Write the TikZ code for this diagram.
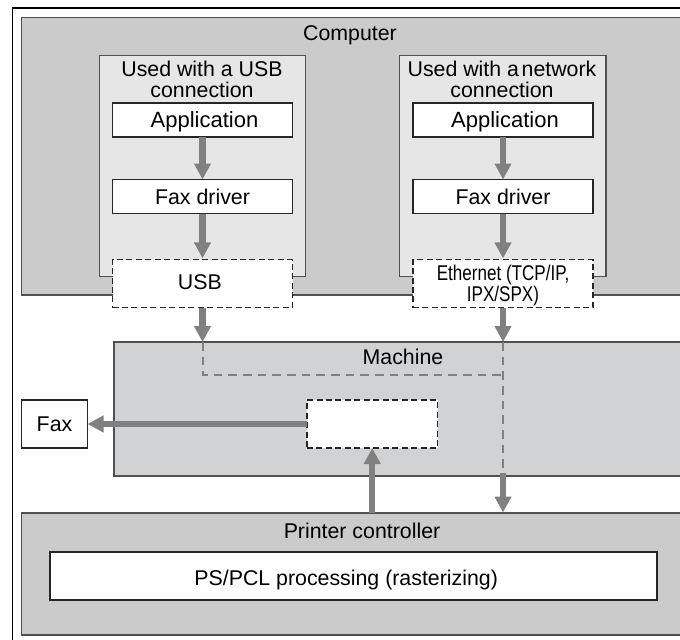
\documentclass[tikz,border=0pt]{standalone}
\usepackage{fontspec}
\setmainfont{Liberation Sans}
\usetikzlibrary{arrows.meta}
\definecolor{boxgray}{HTML}{CBCBCB}
\definecolor{lightgray}{HTML}{E6E6E6}
\definecolor{machgray}{HTML}{D1D2D4}
\definecolor{flowgray}{HTML}{808080}
\definecolor{edgegray}{HTML}{505050}
\newcommand{\appfont}{\fontsize{16.5}{16.5}\selectfont}
\tikzset{
  x=0.75pt,y=-0.75pt,
  pxbox/.style 2 args={anchor=north west,inner sep=0pt,outer sep=0pt,align=center,font=\fontsize{16}{16}\selectfont,
     text depth=0pt,minimum width=#1*0.75pt,minimum height=#2*0.75pt},
  region/.style={draw=edgegray,line width=0.9pt,fill=boxgray},
  solidbox/.style={draw=black!85,line width=0.8pt,fill=white},
  dashbox/.style={draw=black!85,line width=0.8pt,fill=white,dash pattern=on 4.5pt off 2.6pt},
  label/.style={inner sep=0pt,outer sep=0pt,align=center,text depth=0pt,font=\fontsize{16}{16}\selectfont},
  flow/.style={draw=flowgray,line width=4.6pt,-{Triangle[length=12pt,width=12pt]}},
  pathdash/.style={draw=flowgray,line width=1.5pt,dash pattern=on 6.5pt off 4.5pt},
}
\begin{document}
\begin{tikzpicture}
\useasboundingbox (0,0) rectangle (680,639);
\clip (0,0) rectangle (680,639);
\fill[white] (0,0) rectangle (680,639);
% outer frame
\node[pxbox={720}{680},draw=black,line width=1pt] (frame) at (12.5,8) {};
% computer
\node[pxbox={700}{277.5},region] (computer) at (21.5,17.5) {};
\node[label] (computerlabel) at (350,33) {Computer};
\node[pxbox={206}{221},draw=edgegray,line width=0.9pt,fill=lightgray] (usbgroup) at (99.5,55.5) {};
\node[pxbox={206.5}{221},draw=edgegray,line width=0.9pt,fill=lightgray] (netgroup) at (399.5,55.5) {};
\node[label] (usbtitle) at (202,79) {Used with a USB\\connection};
\node[label] (nettitle) at (502,79) {Used with a\hspace{-2.5pt} network\\connection};
\node[pxbox={180}{34},solidbox] (appu) at (112.5,103) {\hspace{3pt}\appfont Application};
\node[pxbox={180}{34},solidbox] (appn) at (413,103) {\hspace{3pt}\appfont Application};
\node[pxbox={180}{34},solidbox] (faxu) at (112.5,179.5) {Fax driver};
\node[pxbox={180}{34},solidbox] (faxn) at (413,179.5) {Fax driver};
\node[pxbox={180}{48},dashbox] (usb) at (112.5,259.5) {\raisebox{1.8pt}{\hspace{-4pt}USB}};
\node[pxbox={180}{48},dashbox] (eth) at (413,259.5) {\scalebox{0.8}[1]{Ethernet (TCP/IP,}\\\scalebox{0.8}[1]{IPX/SPX)}};
% machine
\node[pxbox={600}{134},draw=edgegray,line width=0.9pt,fill=machgray] (machine) at (114,342) {};
\node[label] (machinelabel) at (403,357) {Machine};
\node[pxbox={130.5}{48},dashbox] (inner) at (307,400) {};
\node[pxbox={66}{48},solidbox] (fax) at (21.5,400) {Fax};
% printer controller
\node[pxbox={700}{122},region] (printer) at (21.5,513) {};
\node[label] (printerlabel) at (362,531) {Printer controller};
\node[pxbox={607}{48},solidbox] (ps) at (50,552) {\hspace{-11pt}\raisebox{-2.6pt}{PS/PCL processing (rasterizing)}};
% junction coordinates
\coordinate (musb) at (usb.south|-machine.north);
\coordinate (mnet) at (eth.south|-machine.north);
\coordinate (corner) at (202.5,375);
\coordinate (joint) at (503,375);
\coordinate (dropstart) at (503,472);
\coordinate (dropend) at (503,512.5);
\coordinate (printin) at (inner.south|-printer.north);
% connectors
\draw[flow] (appu) -- (faxu);
\draw[flow] (appn) -- (faxn);
\draw[flow,shorten >=0.8pt] (faxu) -- (usb);
\draw[flow,shorten >=0.8pt] (faxn) -- (eth);
\draw[flow] (usb) -- (musb);
\draw[flow] (eth) -- (mnet);
\draw[pathdash] (musb) -- (corner) -- (joint);
\draw[pathdash] (mnet) -- (dropstart);
\draw[flow] (dropstart) ++(0,1) -- (dropend);
\draw[flow] (inner) -- (fax);
\draw[flow] (printin) -- (inner);
\end{tikzpicture}
\end{document}
